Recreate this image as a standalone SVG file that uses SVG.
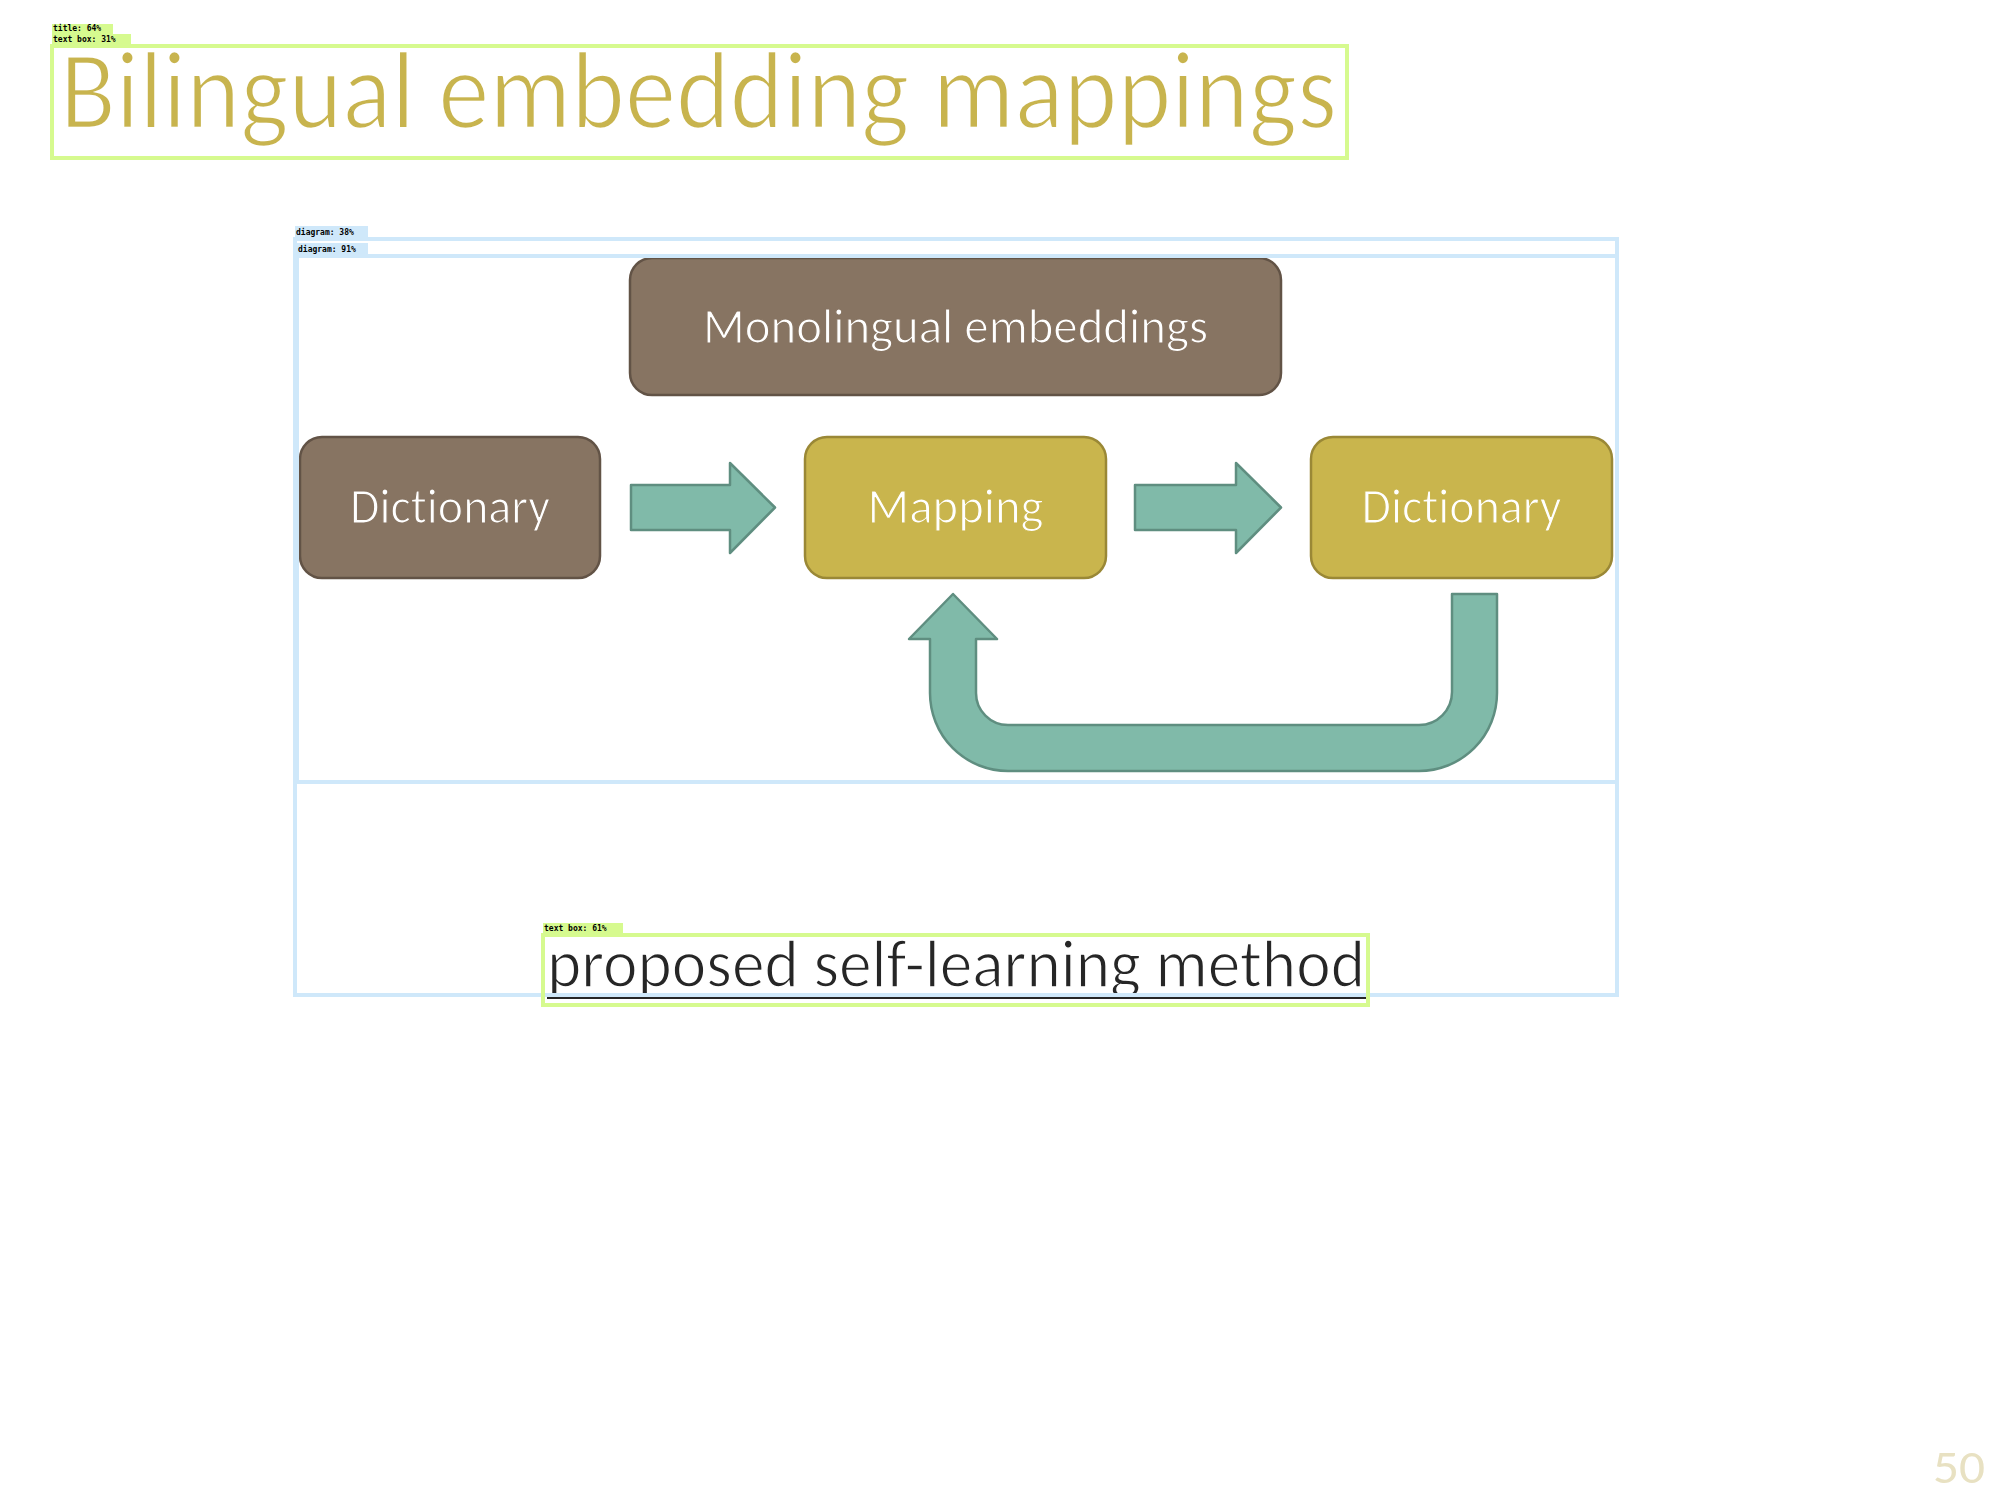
<svg xmlns="http://www.w3.org/2000/svg" width="2000" height="1500" viewBox="0 0 2000 1500">
<style>
text{font-variant-ligatures:none}
.lbl{font-family:"Calibri Light",Carlito,"Open Sans","Noto Sans",sans-serif;fill:#ffffff;text-anchor:middle;stroke-width:1.2}
.brown{fill:#877462;stroke:#625346;stroke-width:2.5}
.gold{fill:#C9B54D;stroke:#9A8836;stroke-width:2.5}
.arrow{fill:#80BAA9;stroke:#5F8E80;stroke-width:2.5;stroke-linejoin:round}
.ovg{fill:none;stroke:#D6FA8F;stroke-width:4}
.ovb{fill:none;stroke:#CFE8FA;stroke-width:4}
.tagg{fill:#D6FA8F}
.tagb{fill:#CFE8FA}
.tagt{font-family:"DejaVu Sans Mono","Liberation Mono",monospace;font-weight:bold;font-size:8px;fill:#000000}
</style>
<rect x="0" y="0" width="2000" height="1500" fill="#ffffff"/>

<g id="title">
<text x="60" y="128" font-family="'Calibri Light',Carlito,'Open Sans','Noto Sans',sans-serif" font-size="112" fill="#C8B44E" stroke="#ffffff" stroke-width="2.5" textLength="1277" lengthAdjust="spacingAndGlyphs">Bilingual embedding mappings</text>
</g>

<g id="node-monolingual">
<rect class="brown" x="630" y="258" width="651" height="137" rx="22"/>
<text class="lbl" x="955.5" y="343" font-size="50" stroke="#877462" textLength="505" lengthAdjust="spacingAndGlyphs">Monolingual embeddings</text>
</g>

<g id="node-dictionary-1">
<rect class="brown" x="300" y="437" width="300" height="141" rx="22"/>
<text class="lbl" x="450" y="523" font-size="49" stroke="#877462" textLength="200" lengthAdjust="spacingAndGlyphs">Dictionary</text>
</g>

<g id="node-mapping">
<rect class="gold" x="805" y="437" width="301" height="141" rx="22"/>
<text class="lbl" x="955.5" y="523" font-size="49" stroke="#C9B54D" textLength="176" lengthAdjust="spacingAndGlyphs">Mapping</text>
</g>

<g id="node-dictionary-2">
<rect class="gold" x="1311" y="437" width="301" height="141" rx="22"/>
<text class="lbl" x="1461.5" y="523" font-size="49" stroke="#C9B54D" textLength="200" lengthAdjust="spacingAndGlyphs">Dictionary</text>
</g>

<g id="connectors">
<polygon class="arrow" points="631,485 730,485 730,463 775,507.5 730,553 730,530 631,530"/>
<polygon class="arrow" points="1135,485 1236,485 1236,463 1281,507.5 1236,553 1236,530 1135,530"/>
<path class="arrow" d="M1452,594 L1497,594 L1497,693 A78,78 0 0 1 1419,771 L1008,771 A78,78 0 0 1 930,693 L930,639 L909,639 L953,594 L997,639 L976,639 L976,693 A32,32 0 0 0 1008,725 L1419,725 A33,33 0 0 0 1452,692 Z"/>
</g>

<g id="caption">
<text x="547" y="987" font-family="'Calibri Light',Carlito,'Open Sans','Noto Sans',sans-serif" font-size="68" fill="#262626" stroke="#ffffff" stroke-width="1.5" textLength="818" lengthAdjust="spacingAndGlyphs">proposed self-learning method</text>
<line x1="547" y1="998" x2="1366" y2="998" stroke="#262626" stroke-width="2"/>
</g>

<g id="page-number">
<text x="1933" y="1483" font-family="'Calibri Light',Carlito,'Open Sans','Noto Sans',sans-serif" font-size="48" fill="#E8E1C2" textLength="52" lengthAdjust="spacingAndGlyphs">50</text>
</g>

<g id="overlays">
<rect class="ovb" x="295" y="239" width="1322" height="756"/>
<rect class="tagb" x="295" y="226" width="73" height="12"/>
<text class="tagt" x="296" y="235">diagram: 38%</text>
<rect class="ovb" x="297" y="256" width="1320" height="526"/>
<rect class="tagb" x="297" y="243" width="71" height="12"/>
<text class="tagt" x="298" y="252">diagram: 91%</text>

<rect class="ovg" x="52" y="46" width="1295" height="112"/>
<rect class="tagg" x="52" y="24" width="61" height="10"/>
<text class="tagt" x="53" y="31">title: 64%</text>
<rect class="tagg" x="52" y="34" width="79" height="10"/>
<text class="tagt" x="53" y="42">text box: 31%</text>

<rect class="ovg" x="543" y="935" width="825" height="70"/>
<rect class="tagg" x="543" y="923" width="80" height="11"/>
<text class="tagt" x="544" y="931">text box: 61%</text>
</g>
</svg>
